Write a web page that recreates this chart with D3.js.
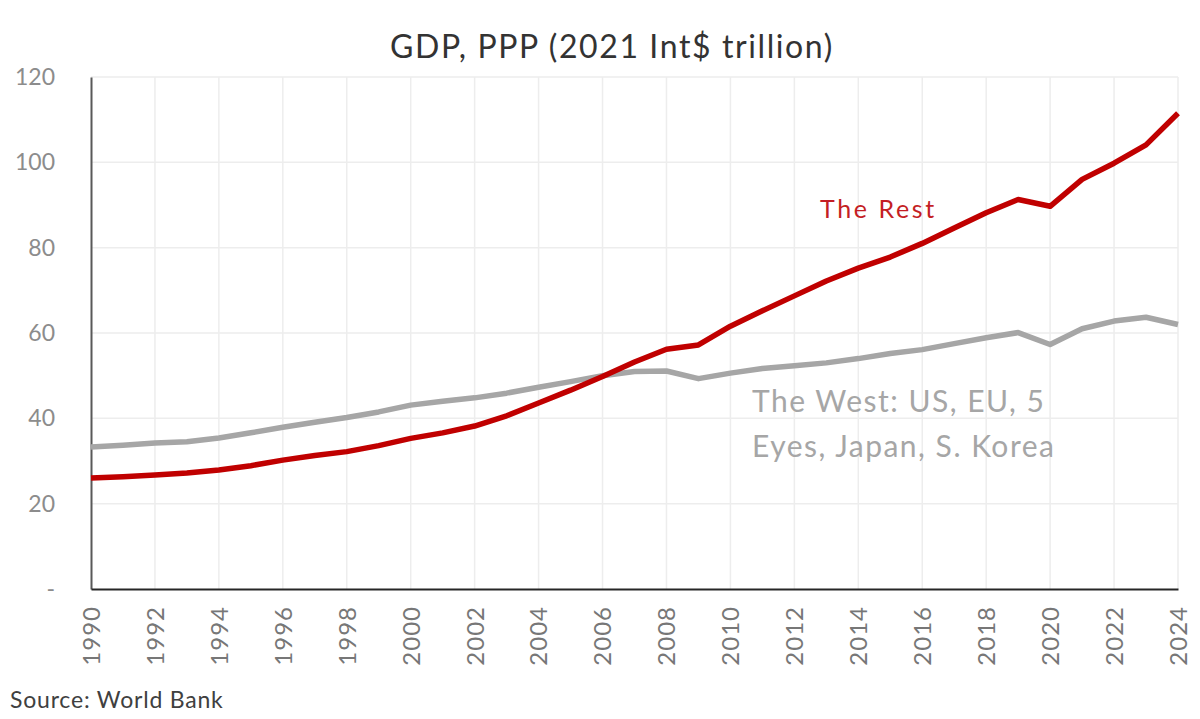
<!DOCTYPE html>
<html>
<head>
<meta charset="utf-8">
<script src="https://cdn.jsdelivr.net/npm/d3@7"></script>
<style>
  body { margin: 0; background: #fff; }
  text { font-family: Lato, "Open Sans", sans-serif; }
</style>
</head>
<body>
<svg id="chart" width="1200" height="719"></svg>
<script>
// data (trillion, 2021 Int$)
let years = d3.range(1990, 2025);
let rest = [26.0, 26.3, 26.7, 27.2, 27.9, 28.9, 30.2, 31.3, 32.2, 33.6,
            35.3, 36.6, 38.2, 40.6, 43.6, 46.6, 49.8, 53.2, 56.2, 57.2,
            61.6, 65.2, 68.7, 72.2, 75.2, 77.8, 81.0, 84.6, 88.2, 91.3,
            89.7, 96.0, 99.8, 104.1, 111.5];
let west = [33.3, 33.7, 34.2, 34.5, 35.4, 36.6, 37.9, 39.1, 40.2, 41.5,
            43.1, 44.0, 44.8, 45.9, 47.3, 48.6, 50.0, 51.0, 51.1, 49.3,
            50.6, 51.7, 52.3, 53.0, 54.0, 55.2, 56.1, 57.5, 58.9, 60.1,
            57.3, 61.0, 62.8, 63.7, 62.0];
let y_ticks = [0, 20, 40, 60, 80, 100, 120];
let x_ticks = d3.range(1990, 2025, 2);

let svg = d3.select('#chart');
let plot_left = 91, plot_right = 1178, plot_top = 77, plot_bottom = 589;

let x = d3.scaleLinear().domain([1990, 2024]).range([plot_left, plot_right]);
let y = d3.scaleLinear().domain([0, 120]).range([plot_bottom, plot_top]);

// gridlines
svg.append('g').selectAll('line').data(y_ticks.slice(1)).join('line')
    .attr('x1', plot_left).attr('x2', plot_right)
    .attr('y1', (d) => y(d)).attr('y2', (d) => y(d))
    .attr('stroke', '#ededed').attr('stroke-width', 1.5);
svg.append('g').selectAll('line').data(x_ticks.slice(1)).join('line')
    .attr('x1', (d) => x(d)).attr('x2', (d) => x(d))
    .attr('y1', plot_top).attr('y2', plot_bottom)
    .attr('stroke', '#ededed').attr('stroke-width', 1.5);

// y axis
let yAxis = svg.append('g')
    .attr('transform', `translate(${plot_left},0)`)
    .call(d3.axisLeft(y).tickValues(y_ticks).tickSize(0).tickPadding(36)
        .tickFormat((d) => d === 0 ? '-' : d));
yAxis.select('.domain').attr('stroke', '#595959').attr('stroke-width', 2);
yAxis.selectAll('text').attr('font-size', 23).attr('fill', '#8c8c8c');

// x axis
let xAxis = svg.append('g')
    .attr('transform', `translate(0,${plot_bottom})`)
    .call(d3.axisBottom(x).tickValues(x_ticks).tickSize(0).tickFormat(d3.format('d')));
xAxis.select('.domain').attr('stroke', '#262626').attr('stroke-width', 2);
xAxis.selectAll('text')
    .attr('font-size', 24).attr('fill', '#777').attr('letter-spacing', 1)
    .attr('text-anchor', 'end')
    .attr('transform', 'translate(0,17) rotate(-90)')
    .attr('x', 0).attr('y', 0).attr('dy', '0.35em');

// lines
let line = (vals) => d3.line().x((d, i) => x(years[i])).y((d) => y(d))(vals);
svg.append('path').attr('d', line(west))
    .attr('fill', 'none').attr('stroke', '#a6a6a6').attr('stroke-width', 5.5)
    .attr('stroke-linejoin', 'round');
svg.append('path').attr('d', line(rest))
    .attr('fill', 'none').attr('stroke', '#c00000').attr('stroke-width', 5.5)
    .attr('stroke-linejoin', 'round');

// labels
svg.append('text').attr('x', 612).attr('y', 58).attr('text-anchor', 'middle')
    .attr('font-size', 32).attr('fill', '#333').attr('letter-spacing', 1.6)
    .text('GDP, PPP (2021 Int$ trillion)');
svg.append('text').attr('x', 820).attr('y', 218)
    .attr('font-size', 25).attr('fill', '#c41e24').attr('letter-spacing', 2.6)
    .text('The Rest');
svg.append('text').attr('x', 752).attr('y', 412)
    .attr('font-size', 30).attr('fill', '#a6a6a6').attr('letter-spacing', 1.5)
    .text('The West: US, EU, 5');
svg.append('text').attr('x', 752).attr('y', 457)
    .attr('font-size', 30).attr('fill', '#a6a6a6').attr('letter-spacing', 1.5)
    .text('Eyes, Japan, S. Korea');
svg.append('text').attr('x', 10).attr('y', 708)
    .attr('font-size', 23).attr('fill', '#404040').attr('letter-spacing', 0.8)
    .text('Source: World Bank');
</script>
</body>
</html>
